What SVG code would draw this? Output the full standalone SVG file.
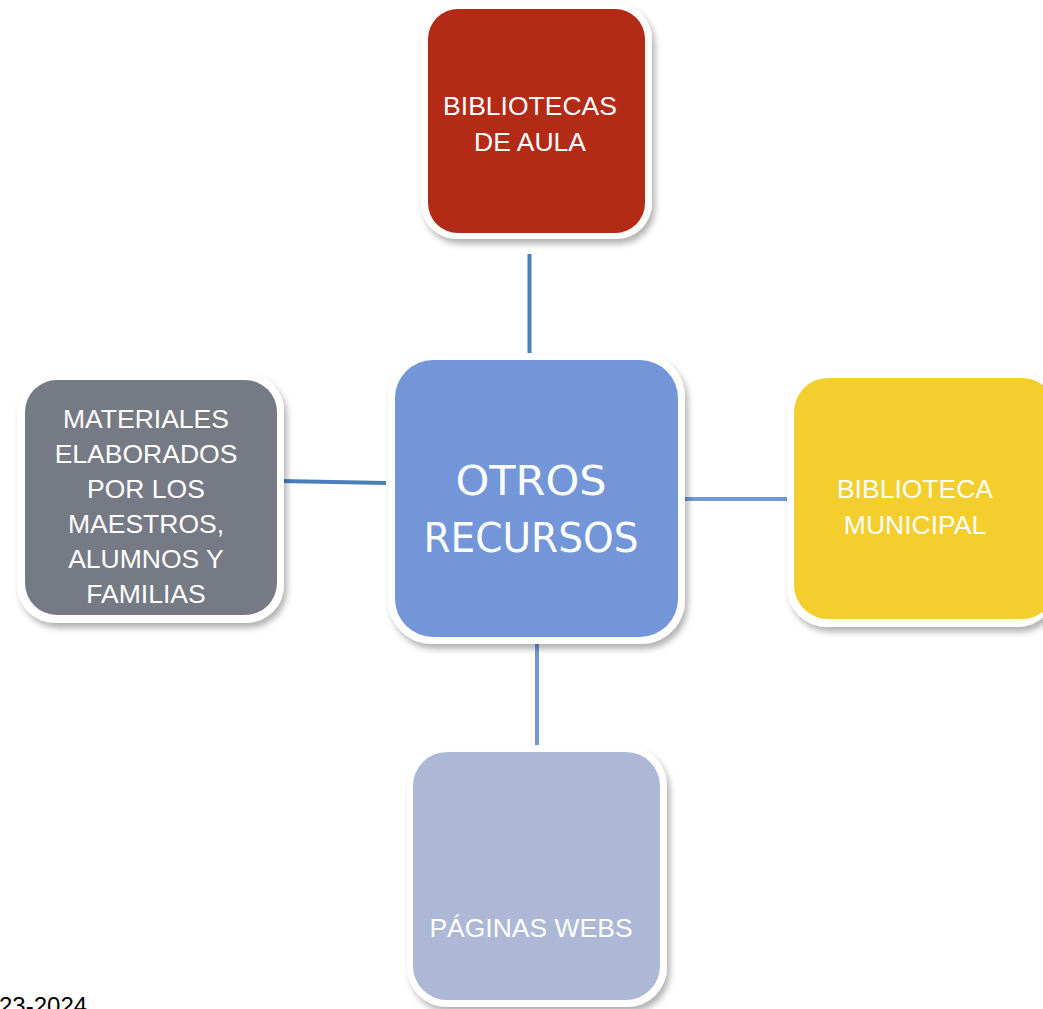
<svg xmlns="http://www.w3.org/2000/svg" width="1043" height="1009" viewBox="0 0 1043 1009">
<style>
.lbl{font-family:"Liberation Sans",Arial,sans-serif;font-size:26.5px;fill:#ffffff;text-anchor:middle}
.big{font-family:"Comic Sans MS","DejaVu Sans",sans-serif;font-size:40px;fill:#ffffff;text-anchor:middle}
.frame{fill:#ffffff;filter:url(#sh)}
.conn{stroke-width:4;fill:none}
</style>
<defs>
<filter id="sh" x="-10%" y="-10%" width="125%" height="125%">
<feDropShadow dx="3" dy="5" stdDeviation="3" flood-color="#000000" flood-opacity="0.3"/>
</filter>
</defs>
<rect width="1043" height="1009" fill="#ffffff"/>
<g id="connectors">
<line class="conn" x1="529.5" y1="254" x2="529.5" y2="372" stroke="#4a7ebf"/>
<line class="conn" x1="280" y1="481" x2="386" y2="483" stroke="#4a7ebb"/>
<line class="conn" x1="682" y1="499" x2="787" y2="499" stroke="#7398d6"/>
<line class="conn" x1="537" y1="641" x2="537" y2="745" stroke="#7298d8"/>
</g>
<g id="node-top">
<rect class="frame" x="421" y="3" width="231" height="236" rx="36"/>
<rect x="428" y="9" width="217" height="224" rx="30" fill="#b32a16"/>
<text class="lbl" x="530" y="115">BIBLIOTECAS</text>
<text class="lbl" x="530" y="151">DE AULA</text>
</g>
<g id="node-center">
<rect class="frame" x="388" y="353" width="297" height="291" rx="44"/>
<rect x="395" y="360" width="283" height="277" rx="38" fill="#7396d8"/>
<text class="big" x="531" y="495" textLength="151" lengthAdjust="spacingAndGlyphs">OTROS</text>
<text class="big" x="531" y="552" textLength="215" lengthAdjust="spacingAndGlyphs">RECURSOS</text>
</g>
<g id="node-right">
<rect class="frame" x="787" y="371" width="270" height="256" rx="40"/>
<rect x="794" y="378" width="262" height="241" rx="34" fill="#f4ce2d"/>
<text class="lbl" x="915" y="498">BIBLIOTECA</text>
<text class="lbl" x="915" y="534">MUNICIPAL</text>
</g>
<g id="node-left">
<rect class="frame" x="17" y="373" width="267" height="250" rx="38"/>
<rect x="25" y="380" width="252" height="235" rx="32" fill="#767a84"/>
<text class="lbl" x="146" y="428">MATERIALES</text>
<text class="lbl" x="146" y="463">ELABORADOS</text>
<text class="lbl" x="146" y="498">POR LOS</text>
<text class="lbl" x="146" y="533">MAESTROS,</text>
<text class="lbl" x="146" y="568">ALUMNOS Y</text>
<text class="lbl" x="146" y="603">FAMILIAS</text>
</g>
<g id="node-bottom">
<rect class="frame" x="407" y="746" width="260" height="261" rx="40"/>
<rect x="413" y="752" width="247" height="248" rx="34" fill="#acb8d6"/>
<text class="lbl" x="531" y="937">PÁGINAS WEBS</text>
</g>
<text x="-1" y="1014" font-family="Liberation Sans,Arial,sans-serif" font-size="24" fill="#000000">23-2024</text>
</svg>
